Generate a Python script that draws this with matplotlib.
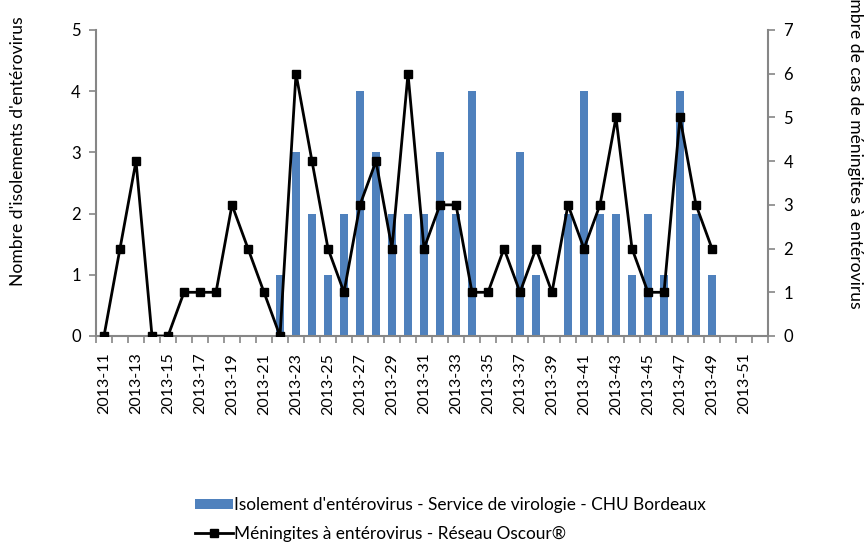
import numpy as np
import matplotlib
matplotlib.use("Agg")
import matplotlib.pyplot as plt
from matplotlib.lines import Line2D
from matplotlib.patches import Patch

plt.rcParams['font.family'] = ['Lato', 'DejaVu Sans']

weeks = [f"2013-{w}" for w in range(11, 53)]
isolements = [0, 0, 0, 0, 0, 0, 0, 0, 0, 0, 0,
              1, 3, 2, 1, 2, 4, 3, 2, 2, 2, 3, 2, 4, 0, 0, 3, 1, 0,
              2, 4, 2, 2, 1, 2, 1, 4, 2, 1, 0, 0, 0]
meningites = [0, 2, 4, 0, 0, 1, 1, 1, 3, 2, 1, 0, 6, 4, 2, 1, 3, 4, 2, 6,
              2, 3, 3, 1, 1, 2, 1, 2, 1, 3, 2, 3, 5, 2, 1, 1, 5, 3, 2,
              np.nan, np.nan, np.nan]

bar_label = "Isolement d'entérovirus - Service de virologie - CHU Bordeaux"
line_label = "Méningites à entérovirus - Réseau Oscour®"
ylabel_left = "Nombre d'isolements d'entérovirus"
ylabel_right = "Nombre de cas de méningites à entérovirus"

gray = "#868686"
blue = "#4F81BD"

fig = plt.figure(figsize=(8.66, 5.44), dpi=100)
ax1 = fig.add_axes([96/866, 1-336/544, (768-96)/866, (336-30)/544])
ax2 = ax1.twinx()

x = np.arange(len(weeks))
ax1.bar(x, isolements, width=0.45, color=blue, zorder=2)
ax2.plot(x, meningites, color="black", lw=2.0, marker="s", markersize=5.5, zorder=3)

ax1.set_xlim(-0.5, len(weeks) - 0.5)
ax1.set_ylim(0, 5)
ax2.set_ylim(0, 7)
ax1.set_yticks(range(0, 6))
ax2.set_yticks(range(0, 8))

ax1.set_xticks(x[::2])
ax1.set_xticklabels(weeks[::2], rotation=90, fontsize=11.5)
ax1.set_xticks(np.arange(-0.5, len(weeks), 1), minor=True)
ax1.tick_params(axis='x', which='major', length=0, pad=12)
ax1.tick_params(axis='x', which='minor', length=5, color=gray, width=1.2, direction='out')
ax1.tick_params(axis='y', length=5, color=gray, width=1.2, labelsize=12, pad=6)
ax2.tick_params(axis='y', length=5, color=gray, width=1.2, labelsize=12, pad=6)

for ax in (ax1, ax2):
    ax.spines['top'].set_visible(False)
    for s in ('left', 'right', 'bottom'):
        ax.spines[s].set_color(gray)
        ax.spines[s].set_linewidth(1.5)
ax1.spines['right'].set_visible(False)
ax2.spines['left'].set_visible(False)
ax2.spines['bottom'].set_visible(False)

fig.text(18/866, 1-151/544, ylabel_left, rotation=90, ha='center', va='center', fontsize=12.6)
fig.text(855/866, 1-142/544, ylabel_right, rotation=270, ha='center', va='center', fontsize=12.6)

handles = [Patch(facecolor=blue, edgecolor='none'),
           Line2D([0], [0], color='black', lw=2.0, marker='s', markersize=5.5)]
leg = fig.legend(handles, [bar_label, line_label], loc='upper left',
                 bbox_to_anchor=(188/866, 1-490/544), frameon=False, fontsize=12.4,
                 handlelength=2.2, handletextpad=0.1, labelspacing=0.75,
                 handleheight=0.5, borderaxespad=0)

fig.savefig("out.png", dpi=100)
